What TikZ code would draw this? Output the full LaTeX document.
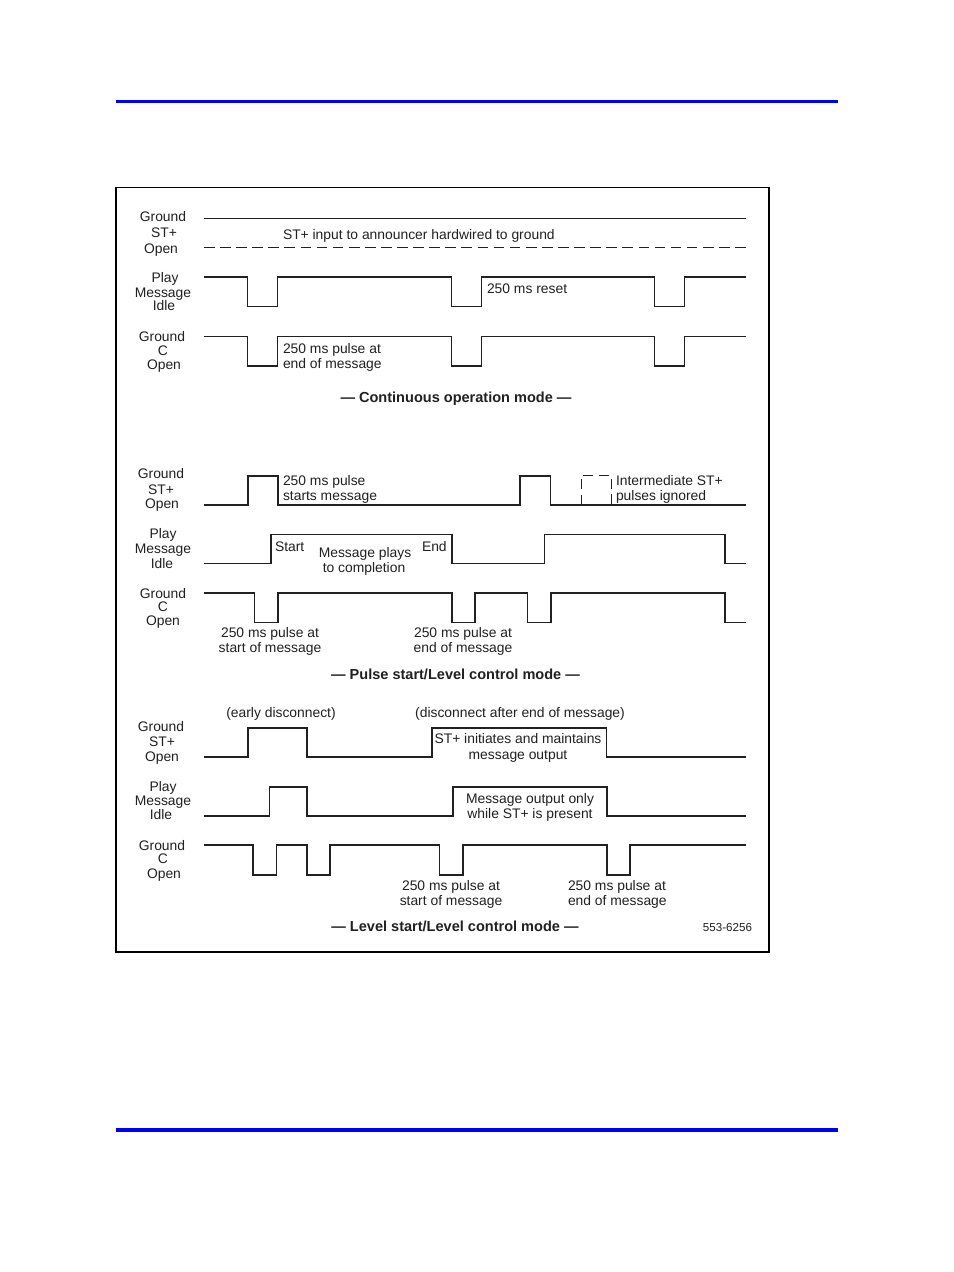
\documentclass[tikz,border=0pt]{standalone}
\usepackage{fontspec}
\setmainfont{Liberation Sans}
\definecolor{ink}{gray}{0.13}
\definecolor{rule}{RGB}{0,0,245}
\tikzset{
  x=0.75pt,y=-0.75pt,
  trace/.style={draw=ink,line width=1.2pt,line join=miter},
  lbl/.style={inner sep=0pt,outer sep=0pt,anchor=mid,yshift=-1.5pt,text=ink,font=\fontsize{10.4pt}{12pt}\selectfont},
  lft/.style={lbl,anchor=mid west},
  ttl/.style={lbl,font=\fontsize{10.9pt}{12pt}\selectfont\bfseries},
  ghost/.style={draw=ink,line width=1.2pt,dash pattern=on 8pt off 4.07pt},
  ghostpulse/.style={draw=ink,line width=0.9pt,dash pattern=on 7.5pt off 4.2pt},
  bar/.style={draw=rule,line width=2.5pt},
  framebox/.style={draw=black,line width=1.1pt}
}
\begin{document}
\begin{tikzpicture}
\useasboundingbox (0,0) rectangle (954,1272);
\fill[white] (0,0) rectangle (954,1272);
\draw[bar] (116,101.6) -- (838,101.6);
\draw[bar] (116,1130) -- (838,1130);
\draw[framebox] (115.8,187.7) rectangle (769,952);

% Continuous
\draw[trace] (204,218.5) -- (746,218.5);
\draw[ghost] (204,247.5) -- (746,247.5);
\draw[trace] (204,277) -| (247.5,306.5) -| (277.5,277) -| (451.5,306.5) -| (481.5,277) -| (654.5,306.5) -| (684.5,277) -- (746,277);
\draw[trace] (204,336.5) -| (247.5,366) -| (277.5,336.5) -| (451.5,366) -| (481.5,336.5) -| (654.5,366) -| (684.5,336.5) -- (746,336.5);

% Pulse start
\draw[trace] (204,505) -| (247.7,475.7) -| (277.7,505) -| (520,475.7) -| (550.5,505) -- (746,505);
\draw[ghostpulse] (581.3,505) -- (581.3,475.7) -- (611.3,475.7) -- (611.3,505);
\draw[trace] (204,563.3) -| (271,534.3) -| (451.7,563.3) -| (544.5,534.3) -| (725,563.3) -- (746,563.3);
\draw[trace] (204,592.7) -| (254.3,622.3) -| (277.7,592.7) -| (451.7,622.3) -| (475,592.7) -| (527.3,622.3) -| (550.7,592.7) -| (725,622.3) -- (746,622.3);

% Level start
\draw[trace] (204,756.7) -| (248,727.7) -| (306.7,756.7) -| (431.7,727.7) -| (606.3,756.7) -- (746,756.7);
\draw[trace] (204,815.7) -| (269.3,786.7) -| (306.7,815.7) -| (452.7,786.7) -| (606.7,815.7) -- (746,815.7);
\draw[trace] (204,845) -| (253,874.7) -| (276.3,845) -| (306.7,874.7) -| (330,845) -| (439.3,874.7) -| (462.7,845) -| (606.7,874.7) -| (630,845) -- (746,845);

% Signal names: continuous
\node[lbl] (a1) at (163,216) {Ground};
\node[lbl] (a2) at (164,232) {ST+};
\node[lbl] (a3) at (161,248) {Open};
\node[lbl] (a4) at (165,277) {Play};
\node[lbl] (a5) at (163,292) {Message};
\node[lbl] (a6) at (164,305) {Idle};
\node[lbl] (a7) at (162,336) {Ground};
\node[lbl] (a8) at (163,350) {C};
\node[lbl] (a9) at (164,364) {Open};
% Signal names: pulse
\node[lbl] (b1) at (161,473) {Ground};
\node[lbl] (b2) at (161,489) {ST+};
\node[lbl] (b3) at (162,503) {Open};
\node[lbl] (b4) at (163,533) {Play};
\node[lbl] (b5) at (163,548) {Message};
\node[lbl] (b6) at (162,563) {Idle};
\node[lbl] (b7) at (163,593) {Ground};
\node[lbl] (b8) at (163,606) {C};
\node[lbl] (b9) at (163,620) {Open};
% Signal names: level
\node[lbl] (c1) at (161,726) {Ground};
\node[lbl] (c2) at (162,741) {ST+};
\node[lbl] (c3) at (162,756) {Open};
\node[lbl] (c4) at (163,786) {Play};
\node[lbl] (c5) at (163,800) {Message};
\node[lbl] (c6) at (161,814) {Idle};
\node[lbl] (c7) at (162,845) {Ground};
\node[lbl] (c8) at (163,858) {C};
\node[lbl] (c9) at (164,873) {Open};

% Notes: continuous
\node[lft] (n1) at (283,234) {ST+ input to announcer hardwired to ground};
\node[lft] (n2) at (487,288) {250 ms reset};
\node[lft] (n3) at (283,348) {250 ms pulse at};
\node[lft] (n4) at (283,363) {end of message};
\node[ttl] (t1) at (456,397) {— Continuous operation mode —};
% Notes: pulse
\node[lft] (n5) at (283,480) {250 ms pulse};
\node[lft] (n6) at (283,495) {starts message};
\node[lft] (n7) at (275,546) {Start};
\node[lbl] (n8) at (365,552) {Message plays};
\node[lbl] (n9) at (364,567) {to completion};
\node[lft] (n10) at (422,546) {End};
\node[lft] (n11) at (616,480) {Intermediate ST+};
\node[lft] (n12) at (616,495) {pulses ignored};
\node[lbl] (n13) at (270,632) {250 ms pulse at};
\node[lbl] (n14) at (270,647) {start of message};
\node[lbl] (n15) at (463,632) {250 ms pulse at};
\node[lbl] (n16) at (463,647) {end of message};
\node[ttl] (t2) at (455.5,674) {— Pulse start/Level control mode —};
% Notes: level
\node[lbl] (n17) at (281,712) {(early disconnect)};
\node[lbl] (n18) at (520,712) {(disconnect after end of message)};
\node[lbl] (n19) at (518,738) {ST+ initiates and maintains};
\node[lbl] (n20) at (518,754) {message output};
\node[lbl] (n21) at (530,798) {Message output only};
\node[lbl] (n22) at (530,813) {while ST+ is present};
\node[lbl] (n23) at (451,885) {250 ms pulse at};
\node[lbl] (n24) at (451,900) {start of message};
\node[lft] (n25) at (568,885) {250 ms pulse at};
\node[lft] (n26) at (568,900) {end of message};
\node[ttl] (t3) at (455,926) {— Level start/Level control mode —};
\node[lbl,anchor=mid east,font=\fontsize{8.7pt}{10pt}\selectfont] (n27) at (752,926) {553-6256};
\end{tikzpicture}
\end{document}
